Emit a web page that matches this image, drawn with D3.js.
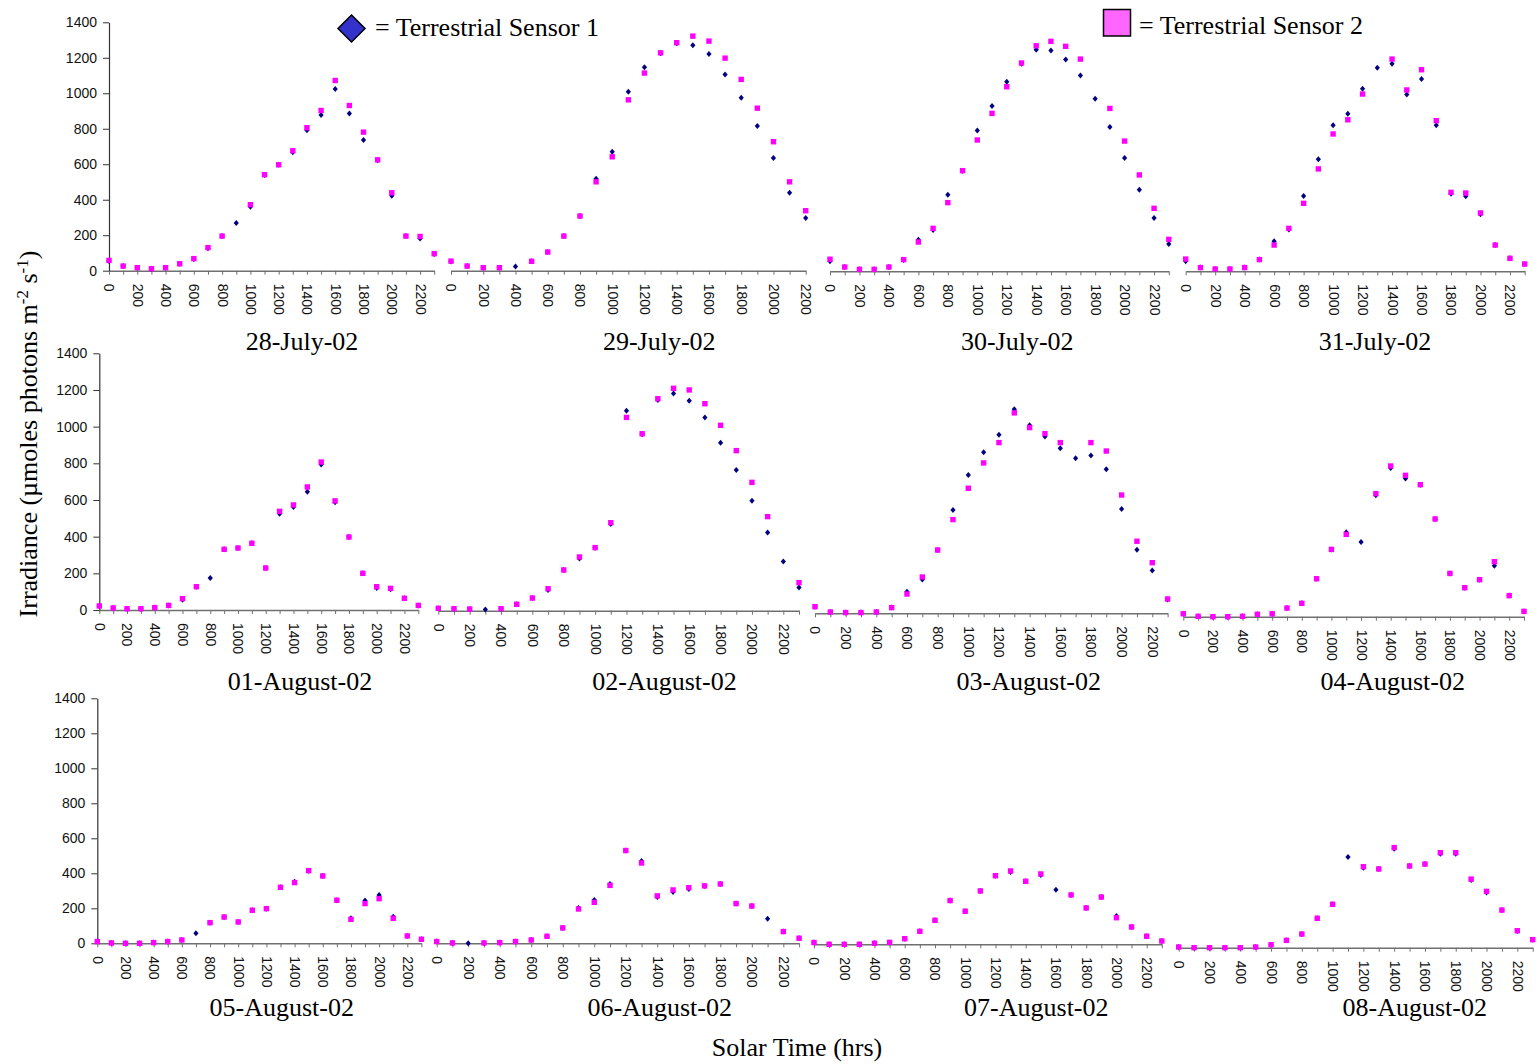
<!DOCTYPE html>
<html>
<head>
<meta charset="utf-8">
<script src="https://cdn.jsdelivr.net/npm/d3@7"></script>
<style>
  html, body { margin: 0; padding: 0; background: #fff; }
  svg { display: block; }
</style>
</head>
<body>
<svg id="chart" width="1537" height="1064"></svg>
<script>
// ---- data -------------------------------------------------------------
// Hourly solar-time categories (hrs)
const hours = [0, 100, 200, 300, 400, 500, 600, 700, 800, 900, 1000, 1100,
               1200, 1300, 1400, 1500, 1600, 1700, 1800, 1900, 2000, 2100, 2200, 2300];
// Every other hour gets a printed label
const hourLabels = [0, 200, 400, 600, 800, 1000, 1200, 1400, 1600, 1800, 2000, 2200];
const irradianceTicks = [0, 200, 400, 600, 800, 1000, 1200, 1400];

const days = ["28-July-02", "29-July-02", "30-July-02", "31-July-02",
              "01-August-02", "02-August-02", "03-August-02", "04-August-02",
              "05-August-02", "06-August-02", "07-August-02", "08-August-02"];

// Terrestrial Sensor 1 irradiance (µmoles photons m-2 s-1), one row per day
const sensor1 = [
  [55, 26, 17, 11, 17, 39, 66, 127, 195, 269, 361, 540, 597, 667, 791, 877, 1024, 886, 736, 622, 423, 196, 182, 94],
  [52, 26, 17, 17, 24, 53, 105, 195, 308, 518, 670, 1008, 1146, 1225, 1282, 1271, 1221, 1106, 975, 815, 635, 439, 297],
  [56, 24, 11, 11, 24, 64, 178, 233, 432, 567, 794, 932, 1069, 1170, 1249, 1245, 1194, 1104, 973, 813, 639, 460, 300, 154],
  [56, 21, 13, 13, 21, 66, 169, 235, 424, 631, 823, 888, 1029, 1147, 1170, 997, 1084, 823, 437, 423, 321, 148, 73, 41],
  [22, 11, 7, 7, 13, 25, 56, 127, 175, 331, 338, 364, 229, 525, 562, 645, 793, 587, 398, 200, 120, 113, 64, 25],
  [13, 11, 9, 7, 11, 35, 69, 113, 222, 285, 344, 473, 1091, 962, 1149, 1184, 1145, 1053, 916, 767, 600, 427, 269, 127],
  [36, 7, 4, 4, 7, 31, 118, 185, 345, 564, 754, 878, 974, 1113, 1025, 964, 900, 845, 860, 785, 569, 347, 233, 75],
  [16, 2, 0, 0, 2, 13, 16, 47, 73, 207, 367, 460, 407, 662, 811, 754, 720, 533, 236, 158, 202, 278, 115, 29],
  [10, 2, 0, 0, 4, 10, 19, 57, 118, 150, 122, 189, 198, 320, 352, 415, 385, 246, 143, 244, 276, 152, 42, 23],
  [10, 2, 0, 2, 4, 10, 19, 40, 88, 202, 248, 339, 530, 471, 265, 293, 311, 328, 339, 227, 213, 141, 67, 29],
  [10, 0, 0, 0, 6, 11, 32, 74, 137, 250, 189, 305, 392, 413, 360, 396, 312, 282, 208, 270, 162, 99, 46, 19],
  [4, 0, 0, 0, 0, 4, 17, 42, 78, 168, 248, 518, 457, 450, 566, 467, 478, 537, 537, 387, 316, 215, 95, 46]
];

// Terrestrial Sensor 2 irradiance (null = no reading)
const sensor2 = [
  [58, 26, 17, 11, 17, 39, 68, 130, 195, null, 372, 541, 597, 676, 806, 903, 1072, 931, 781, 625, 439, 195, 193, 96],
  [54, 26, 17, 17, null, 53, 105, 195, 308, 501, 642, 963, 1114, 1228, 1285, 1322, 1294, 1198, 1078, 916, 727, 501, 338],
  [68, 24, 11, 11, 24, 66, 165, 242, 387, 567, 740, 890, 1040, 1174, 1271, 1296, 1268, 1196, null, 918, 734, 543, 355, 180],
  [69, 21, 13, 13, 21, 66, 148, 242, 383, 577, 774, 854, 999, null, 1196, 1022, 1136, 849, 445, 441, 329, 148, 73, 41],
  [22, 11, 7, 7, 13, 25, 62, 127, null, 331, 338, 364, 229, 538, 573, 671, 807, 595, 398, 200, 127, 118, 64, 25],
  [13, 11, 9, null, 11, 35, 69, 120, 222, 293, 344, 480, 1054, 965, 1156, 1213, 1204, 1129, 1011, 873, 700, 513, null, 153],
  [36, 7, 4, 4, 7, 31, 105, 198, 345, 511, 682, 820, 931, 1093, 1013, 980, 931, null, 931, 885, 645, 393, 276, 78],
  [16, 2, 0, 0, 2, 13, 16, 47, 73, 207, 367, 449, null, 671, 822, 771, 720, 533, 236, 158, 202, 300, 115, 29],
  [10, 2, 0, 0, 4, 10, 19, null, 118, 150, 122, 189, 198, 320, 347, 415, 385, 246, 137, 227, 255, 143, 42, 23],
  [10, 2, null, 2, 4, 10, 19, 40, 88, 196, 234, 331, 530, 459, 271, 305, 318, 328, 339, 227, 213, null, 67, 29],
  [10, 0, 0, 0, 6, 11, 32, 74, 137, 250, 189, 305, 392, 419, 360, 402, null, 282, 208, 270, 152, 99, 46, 19],
  [4, 0, 0, 0, 0, 4, 17, 42, 78, 168, 248, null, 463, 450, 572, 467, 478, 543, 543, 392, 322, 215, 97, 46]
];

// ---- layout -----------------------------------------------------------
// Each day is its own small plot: x range of the hour axis, baseline,
// height of the 0–1400 span, and centre of the date caption.
const panels = [
  { x0: 109,    x1: 434.2,  base: 270.7, h: 248.4, tx: 302,    ty: 350,  yAxis: true },
  { x0: 451,    x1: 805.7,  base: 270.7, h: 248.4, tx: 659.3,  ty: 350 },
  { x0: 830,    x1: 1168.8, base: 271.3, h: 248.4, tx: 1017.3, ty: 350 },
  { x0: 1185.7, x1: 1524.7, base: 271.3, h: 248.4, tx: 1375,   ty: 350 },
  { x0: 99.3,   x1: 418.3,  base: 610,   h: 256.7, tx: 300,    ty: 690,  yAxis: true },
  { x0: 438.3,  x1: 799,    base: 610.7, h: 256.7, tx: 664.5,  ty: 690 },
  { x0: 815,    x1: 1167.6, base: 613.3, h: 256.7, tx: 1028.8, ty: 690 },
  { x0: 1183.3, x1: 1524,   base: 616.7, h: 256.7, tx: 1392.7, ty: 690 },
  { x0: 97.3,   x1: 421.4,  base: 943.3, h: 245,   tx: 281.7,  ty: 1016, yAxis: true },
  { x0: 436.7,  x1: 799.1,  base: 943.3, h: 245,   tx: 659.7,  ty: 1016 },
  { x0: 814,    x1: 1161.8, base: 944.3, h: 245,   tx: 1036.3, ty: 1016 },
  { x0: 1178.7, x1: 1532.7, base: 947.7, h: 245,   tx: 1414.7, ty: 1016 }
];

const SANS = "'Liberation Sans', Arial, sans-serif";
const SERIF = "'Liberation Serif', 'Times New Roman', serif";
const BLUE = "#000080";
const PINK = "#FF00FF";

const svg = d3.select("#chart");

const diamond = "M0,-3 L2.6,0 L0,3 L-2.6,0 Z";
const sq = 2.7;

panels.forEach((p, i) => {
  const s1 = sensor1[i];
  const s2 = sensor2[i];
  const hrs = hours.slice(0, s1.length);

  const x = d3.scaleLinear().domain([0, hrs[hrs.length - 1]]).range([p.x0, p.x1]);
  const y = d3.scaleLinear().domain([0, 1400]).range([p.base, p.base - p.h]);

  const g = svg.append("g").attr("class", "panel");

  // hour axis
  const xa = g.append("g")
    .attr("transform", `translate(0,${p.base})`)
    .call(d3.axisBottom(x)
      .tickValues(hrs)
      .tickSize(4)
      .tickSizeOuter(0)
      .tickFormat(d => hourLabels.includes(d) ? String(d) : ""));
  xa.select(".domain").attr("stroke", "#707070").attr("stroke-width", 1.4);
  xa.selectAll(".tick line").attr("stroke", "#707070");
  xa.selectAll(".tick text")
    .attr("transform", "rotate(90)")
    .attr("x", 13)
    .attr("y", 0)
    .attr("dy", "0.36em")
    .attr("text-anchor", "start")
    .attr("fill", "#111")
    .style("font-family", SANS)
    .style("font-size", "14px");

  // irradiance axis on the first plot of each row
  if (p.yAxis) {
    const ya = g.append("g")
      .attr("transform", `translate(${p.x0},0)`)
      .call(d3.axisLeft(y)
        .tickValues(irradianceTicks)
        .tickFormat(d => String(d))
        .tickSize(6)
        .tickPadding(6)
        .tickSizeOuter(0));
    ya.select(".domain").attr("stroke", "#333").attr("stroke-width", 1.2);
    ya.selectAll(".tick line").attr("stroke", "#333");
    ya.selectAll(".tick text")
      .attr("fill", "#111")
      .style("font-family", SANS)
      .style("font-size", "14px");
  }

  // Sensor 1: navy diamonds (drawn first, underneath)
  const pts1 = hrs.map((h, j) => [h, s1[j]]).filter(d => d[1] != null);
  g.selectAll("path.s1").data(pts1).join("path")
    .attr("class", "s1")
    .attr("d", diamond)
    .attr("transform", d => `translate(${x(d[0])},${y(d[1])})`)
    .attr("fill", BLUE);

  // Sensor 2: magenta squares
  const pts2 = hrs.map((h, j) => [h, s2[j]]).filter(d => d[1] != null);
  g.selectAll("rect.s2").data(pts2).join("rect")
    .attr("class", "s2")
    .attr("x", d => x(d[0]) - sq)
    .attr("y", d => y(d[1]) - sq)
    .attr("width", sq * 2)
    .attr("height", sq * 2)
    .attr("fill", PINK);

  // date caption
  g.append("text")
    .attr("x", p.tx)
    .attr("y", p.ty)
    .attr("text-anchor", "middle")
    .style("font-family", SERIF)
    .style("font-size", "26px")
    .attr("fill", "#000")
    .text(days[i]);
});

// ---- legend -----------------------------------------------------------
svg.append("path")
  .attr("d", "M351.5,15 L365,28.5 L351.5,42 L338,28.5 Z")
  .attr("fill", "#3333CC")
  .attr("stroke", "#000")
  .attr("stroke-width", 1.5);
svg.append("text")
  .attr("x", 375).attr("y", 36)
  .style("font-family", SERIF).style("font-size", "26px")
  .text("= Terrestrial Sensor 1");

svg.append("rect")
  .attr("x", 1103.5).attr("y", 9.5).attr("width", 27).attr("height", 26.5)
  .attr("fill", "#FF66FF")
  .attr("stroke", "#000")
  .attr("stroke-width", 1.5);
svg.append("text")
  .attr("x", 1139).attr("y", 34)
  .style("font-family", SERIF).style("font-size", "26px")
  .text("= Terrestrial Sensor 2");

// ---- axis titles ------------------------------------------------------
svg.append("text")
  .attr("x", 797).attr("y", 1056)
  .attr("text-anchor", "middle")
  .style("font-family", SERIF).style("font-size", "26px")
  .text("Solar Time (hrs)");

const yTitle = svg.append("text")
  .attr("transform", "translate(37,434) rotate(-90)")
  .attr("text-anchor", "middle")
  .style("font-family", SERIF).style("font-size", "26px");
yTitle.append("tspan").text("Irradiance (µmoles photons m");
yTitle.append("tspan").attr("dy", -9).style("font-size", "17px").text("-2");
yTitle.append("tspan").attr("dy", 9).text(" s");
yTitle.append("tspan").attr("dy", -9).style("font-size", "17px").text("-1");
yTitle.append("tspan").attr("dy", 9).text(")");
</script>
</body>
</html>
